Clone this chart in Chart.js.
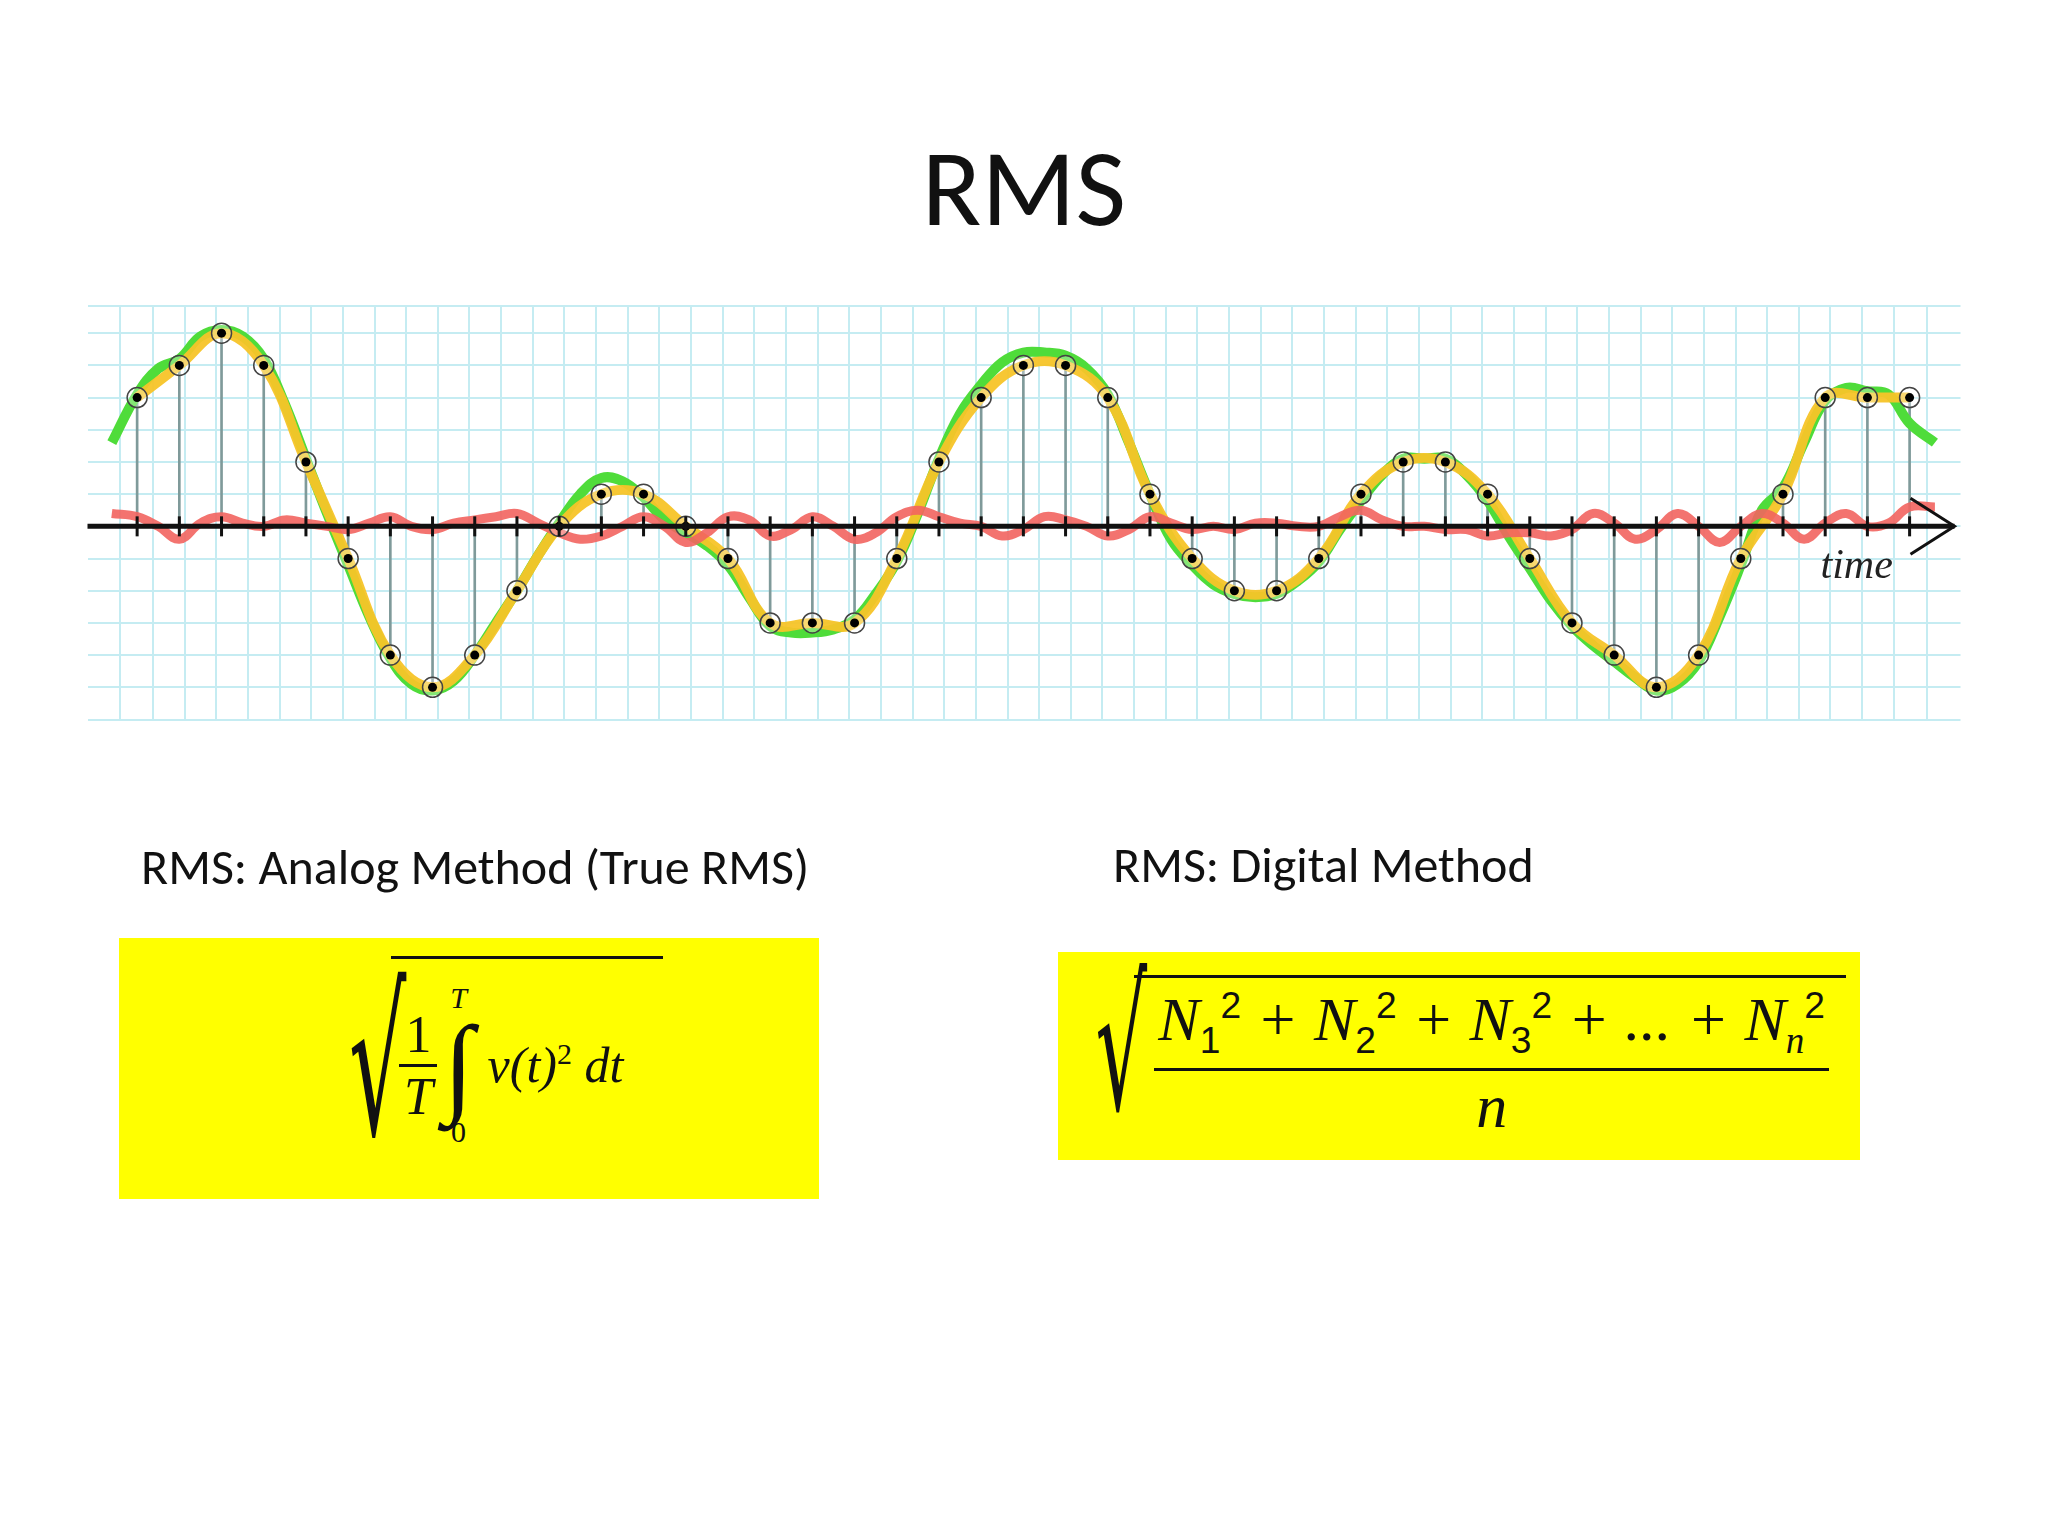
<!DOCTYPE html>
<html>
<head>
<meta charset="utf-8">
<script src="https://cdn.jsdelivr.net/npm/chart.js@4"></script>
<style>
  body { margin: 0; width: 2048px; height: 1536px; background: #fff; position: relative; font-family: Calibri, Carlito, "Open Sans", sans-serif; }
  #title { position: absolute; top: 120px; width: 2048px; left: 0; text-align: center; font-size: 110px; color: #111; }
  #wrap { position: absolute; left: 76px; top: 294px; width: 1896px; height: 437px; }
  .label { position: absolute; font-size: 50px; color: #111; }
  .box { position: absolute; background: #ffff00; font-family: "Liberation Serif", "DejaVu Serif", serif; font-style: italic; color: #111; }
  .sq { display: inline-flex; align-items: flex-end; }
  .rad { font-style: normal; font-family: "DejaVu Serif", serif; }
  .under { border-top: 3px solid #111; padding: 6px 4px 0 8px; }
  .frac { display: inline-flex; flex-direction: column; align-items: center; vertical-align: middle; }
  .frac .num { border-bottom: 3px solid #111; padding: 0 6px; }
  sub, sup { font-size: 60%; }
  .up { font-style: normal; font-family: Arial, "Liberation Sans", sans-serif; }
</style>
</head>
<body>
<div id="title">RMS</div>
<div id="wrap"><canvas id="rmsChart"></canvas></div>

<div class="label" style="left:141px; top:836px;">RMS: Analog Method (True RMS)</div>
<div class="label" style="left:1113px; top:834px;">RMS: Digital Method</div>

<div class="box" style="left:119px; top:938px; width:700px; height:261px;">
  <div style="position:absolute; left:195px; top:18px; font-size:50px;" class="sq">
    <span class="rad" style="font-size:200px; line-height:200px; transform:scaleX(0.45); margin-right:-50px;">√</span>
    <span class="under" style="display:flex; align-items:center; height:200px; width:260px;">
      <span class="frac" style="font-style:normal; font-size:52px;"><span class="num">1</span><span><i>T</i></span></span>
      <span style="display:inline-flex; flex-direction:column; align-items:center; margin:0 14px 0 6px;">
        <span style="font-size:30px;">T</span>
        <span style="font-size:110px; line-height:100px; font-style:normal;">∫</span>
        <span style="font-size:30px; font-style:normal;">0</span>
      </span>
      <span style="white-space:nowrap;"><i>v</i>(<i>t</i>)<sup class="up" style="font-family:serif">2</sup> <i>dt</i></span>
    </span>
  </div>
</div>

<div class="box" style="left:1058px; top:952px; width:802px; height:208px;">
  <div style="position:absolute; left:6px; top:0px; font-size:62px;" class="sq">
    <span class="rad" style="font-size:180px; line-height:190px; transform:scaleX(0.45); margin-right:-45px;">√</span>
    <span class="under" style="display:flex; flex-direction:column; align-items:center; width:700px;">
      <span style="border-bottom:3px solid #111; padding:0 4px 6px; white-space:nowrap;">N<sub class="up">1</sub><sup class="up">2</sup> + N<sub class="up">2</sub><sup class="up">2</sup> + N<sub class="up">3</sub><sup class="up">2</sup> + ... + N<sub>n</sub><sup class="up">2</sup></span>
      <span>n</span>
    </span>
  </div>
</div>

<script>
// sampled values (grid units), one per sample index 0..42
const samples = [4, 5, 6, 5, 2, -1, -4, -5, -4, -2, 0, 1, 1, 0, -1, -3, -3, -3, -1, 2, 4, 5, 5, 4, 1,
  -1, -2, -2, -1, 1, 2, 2, 1, -1, -3, -4, -5, -4, -1, 1, 4, 4, 4];
// true analog signal, read at half-sample steps
const signalX = [-0.6, 0, 0.5, 1, 1.5, 2, 2.5, 3, 3.5, 4, 4.5, 5, 5.5, 6, 6.5, 7, 7.5, 8, 8.5, 9, 9.5, 10, 10.5, 11, 11.5, 12, 12.5, 13, 13.5, 14,
  14.5, 15, 15.5, 16, 16.5, 17, 17.5, 18, 18.5, 19, 19.5, 20, 20.5, 21, 21.5, 22, 22.5, 23, 23.5, 24, 24.5, 25, 25.5, 26, 26.5, 27, 27.5, 28,
  28.5, 29, 29.5, 30, 30.5, 31, 31.5, 32, 32.5, 33, 33.5, 34, 34.5, 35, 35.5, 36, 36.5, 37, 37.5, 38, 38.5, 39, 39.5, 40, 40.5, 41, 41.5, 42, 42.6];
const signal = [2.6, 4.1, 4.9, 5.2, 5.9, 6.1, 5.9, 5.2, 3.8, 2.1, 0.4, -1.2, -2.8, -4.1, -4.9, -5.1, -4.8, -4.0, -3.0, -2.0, -0.9, 0.1, 1.0, 1.5, 1.4, 0.9, 0.2, -0.2, -0.6, -1.2,
  -2.2, -3.1, -3.3, -3.3, -3.2, -2.9, -2.1, -1.1, 0.4, 2.1, 3.5, 4.4, 5.1, 5.4, 5.4, 5.3, 4.9, 4.1, 2.6, 1.0, -0.4, -1.2, -1.8, -2.1, -2.2, -2.1, -1.7, -1.1,
  -0.1, 0.8, 1.6, 2.1, 2.1, 2.1, 1.6, 0.8, -0.3, -1.3, -2.3, -3.1, -3.7, -4.2, -4.7, -5.1, -4.9, -4.2, -2.8, -1.2, 0.5, 1.2, 2.6, 3.9, 4.3, 4.2, 4.1, 3.2, 2.6];
// quantisation error (red), same x positions as the signal
const errorVals = [0.4, 0.3, 0.0, -0.4, 0.1, 0.3, 0.1, 0.0, 0.2, 0.1, 0.0, -0.1, 0.1, 0.3, 0.0, -0.1, 0.1, 0.2, 0.3, 0.4, 0.1, -0.2, -0.4, -0.3, 0.0, 0.3, 0.0, -0.5, -0.2, 0.3,
  0.2, -0.3, -0.1, 0.3, 0.0, -0.4, -0.2, 0.3, 0.5, 0.3, 0.1, 0.0, -0.3, -0.1, 0.3, 0.2, 0.0, -0.3, -0.1, 0.3, 0.1, -0.1, 0.0, -0.1, 0.1, 0.1, 0.0, 0.0,
  0.3, 0.5, 0.2, 0.0, 0.0, -0.1, -0.1, -0.3, -0.2, -0.2, -0.3, -0.1, 0.4, 0.1, -0.4, -0.1, 0.4, 0.0, -0.5, 0.0, 0.4, 0.1, -0.4, 0.1, 0.4, 0.0, 0.1, 0.6, 0.6];

const sampleX = samples.map((v, i) => i);
const pts = (xs, ys) => xs.map((x, i) => ({ x: x, y: ys[i] }));

const axisPlugin = {
  id: 'axisPlugin',
  afterDatasetsDraw(chart) {
    const { ctx, scales: { x, y }, chartArea } = chart;
    const y0 = y.getPixelForValue(0);
    ctx.save();
    ctx.strokeStyle = '#111';
    ctx.lineWidth = 5;
    ctx.beginPath();
    ctx.moveTo(chartArea.left, y0);
    ctx.lineTo(chartArea.right - 6, y0);
    ctx.stroke();
    ctx.lineWidth = 3;
    sampleX.forEach(i => {
      const px = x.getPixelForValue(i);
      ctx.beginPath(); ctx.moveTo(px, y0 - 10); ctx.lineTo(px, y0 + 10); ctx.stroke();
    });
    ctx.beginPath();
    ctx.moveTo(chartArea.right - 50, y0 - 28);
    ctx.lineTo(chartArea.right - 6, y0);
    ctx.lineTo(chartArea.right - 50, y0 + 28);
    ctx.stroke();
    ctx.fillStyle = '#222';
    ctx.font = 'italic 42px "Liberation Serif", serif';
    ctx.fillText('time', chartArea.right - 140, y0 + 52);
    ctx.restore();
  }
};

new Chart(document.getElementById('rmsChart'), {
  data: {
    datasets: [
      { type: 'bar', data: pts(sampleX, samples.map(v => [0, v])), backgroundColor: '#7f9a9a', barThickness: 2, order: 5 },
      { type: 'line', data: pts(signalX, signal), borderColor: '#4fdc3a', borderWidth: 10, tension: 0.4, pointRadius: 0, order: 4 },
      { type: 'line', data: pts(sampleX, samples), borderColor: 'rgba(247,196,40,0.95)', borderWidth: 10, tension: 0.4, pointRadius: 0, order: 3 },
      { type: 'line', data: pts(signalX, errorVals), borderColor: 'rgba(242,100,95,0.9)', borderWidth: 9, tension: 0.4, pointRadius: 0, order: 2 },
      { type: 'scatter', data: pts(sampleX, samples), pointRadius: 10, pointBackgroundColor: 'rgba(255,255,255,0.3)', pointBorderColor: '#444', pointBorderWidth: 1.5, order: 1 },
      { type: 'scatter', data: pts(sampleX, samples), pointRadius: 4.5, pointBackgroundColor: '#000', pointBorderWidth: 0, order: 0 }
    ]
  },
  options: {
    responsive: true,
    maintainAspectRatio: false,
    animation: false,
    layout: { padding: 0 },
    plugins: { legend: { display: false }, tooltip: { enabled: false } },
    scales: {
      x: { type: 'linear', min: -0.8, max: 42.83, ticks: { display: false, stepSize: 0.75 }, grid: { color: '#c5ecf2', lineWidth: 2, drawTicks: false }, border: { display: false } },
      y: { min: -6, max: 6.86, ticks: { display: false, stepSize: 1 }, grid: { color: '#c5ecf2', lineWidth: 2, drawTicks: false }, border: { display: false } }
    }
  },
  plugins: [axisPlugin]
});
</script>
</body>
</html>
